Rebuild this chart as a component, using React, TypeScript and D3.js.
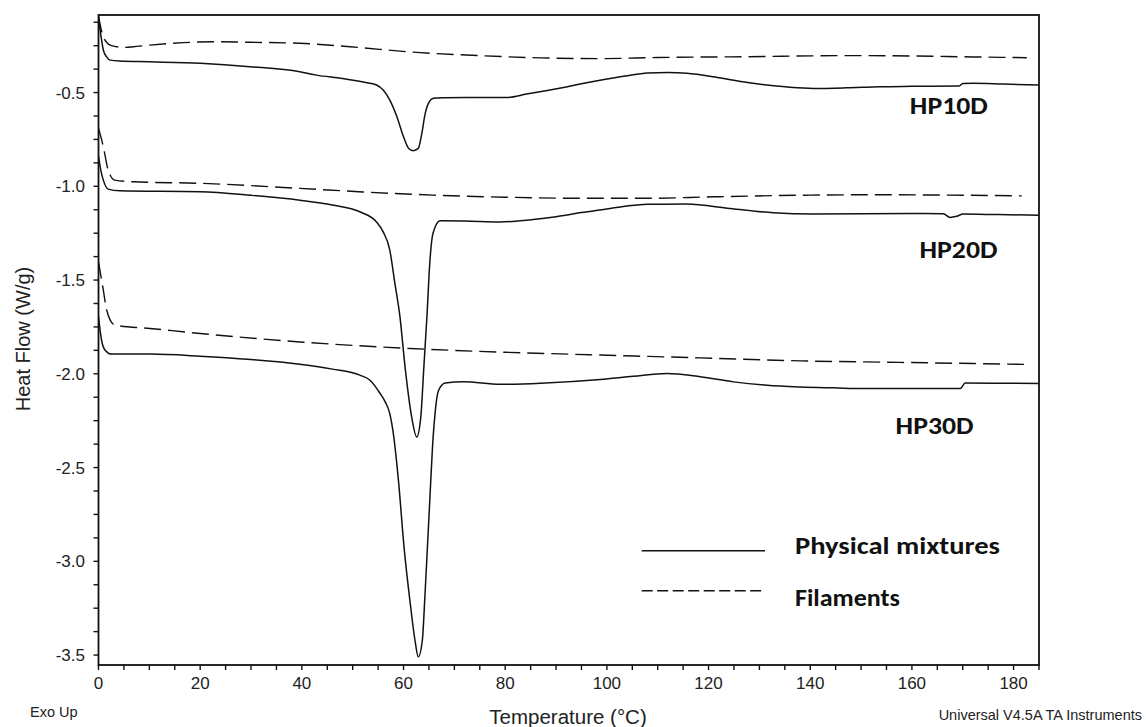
import React from "react";
import * as d3 from "d3";

// DSC thermograms, [temperature °C, heat flow W/g]
const hp10Mixture = [
  [0, -0.1], [0.5, -0.2], [0.95, -0.273], [1.6, -0.31], [2.3, -0.327], [4.2, -0.332],
  [10, -0.336], [20, -0.344], [29.8, -0.362], [39.6, -0.389], [42.9, -0.407],
  [48, -0.425], [52.8, -0.448], [54.7, -0.46], [56, -0.487], [57.3, -0.54],
  [58.7, -0.629], [60, -0.736], [61, -0.798], [61.9, -0.81], [62.9, -0.798],
  [63.6, -0.718], [64.2, -0.62], [64.9, -0.558], [65.9, -0.531], [68, -0.528],
  [72.4, -0.526], [80.3, -0.526], [84.2, -0.508], [88, -0.49], [92, -0.47],
  [96, -0.448], [100, -0.428], [104, -0.41], [108, -0.396], [112, -0.393],
  [115.7, -0.397], [121, -0.416], [126, -0.44], [131.5, -0.46], [136, -0.472],
  [140.6, -0.478], [147, -0.475], [153.7, -0.469], [160, -0.467], [169.3, -0.465],
  [170, -0.452], [172, -0.451], [178, -0.455], [185, -0.46],
];

const hp10Filament = [
  [0, -0.09], [0.5, -0.16], [0.95, -0.202], [1.6, -0.232], [2.3, -0.247],
  [4.9, -0.259], [7.5, -0.254], [10.1, -0.247], [16.7, -0.234], [22.6, -0.229],
  [29.8, -0.232], [39.6, -0.237], [49.5, -0.256], [62.6, -0.286], [75.7, -0.304],
  [87, -0.315], [98.7, -0.319], [110, -0.313], [127.5, -0.309], [147.2, -0.303],
  [160.2, -0.305], [172, -0.31], [182.6, -0.314],
];

const hp20Mixture = [
  [0, -0.84], [0.5, -0.92], [0.95, -0.967], [1.9, -1.015], [4.2, -1.024],
  [20, -1.029], [30, -1.048], [39.6, -1.074], [46, -1.1], [51.4, -1.136],
  [54.7, -1.19], [56, -1.243], [57.3, -1.34], [58.3, -1.518], [59.3, -1.696],
  [60.3, -1.963], [61.6, -2.23], [62.6, -2.337], [63.4, -2.23], [64.0, -1.963],
  [64.6, -1.696], [65.2, -1.394], [65.8, -1.25], [67.2, -1.184], [72, -1.185],
  [79, -1.19], [85.5, -1.177], [90, -1.162], [95, -1.14], [100, -1.121],
  [104, -1.105], [108, -1.096], [115.7, -1.095], [124.2, -1.118], [132.7, -1.141],
  [140.6, -1.148], [160, -1.145], [166.2, -1.146], [167.5, -1.166],
  [168.8, -1.16], [170.1, -1.148], [177, -1.151], [185, -1.154],
];

const hp20Filament = [
  [0, -0.69], [0.95, -0.789], [1.9, -0.914], [3.2, -0.967], [6.8, -0.976],
  [20, -0.984], [39.6, -1.011], [52, -1.03], [65.8, -1.047], [80, -1.058],
  [94.7, -1.064], [107.9, -1.064], [121, -1.056], [137.4, -1.048],
  [153.7, -1.045], [166.9, -1.047], [181.6, -1.051],
];

const hp30Mixture = [
  [0, -1.696], [0.6, -1.821], [1.3, -1.874], [2.6, -1.895], [10.1, -1.895],
  [20, -1.906], [30, -1.924], [39.6, -1.949], [46, -1.975], [51.4, -2.007],
  [53.4, -2.034], [55.4, -2.105], [56.4, -2.15], [57.3, -2.212], [57.9, -2.3],
  [59.0, -2.568], [60.1, -2.924], [61.3, -3.22], [62.3, -3.43], [62.9, -3.51],
  [63.7, -3.421], [64.2, -3.19], [64.7, -2.924], [65.2, -2.657], [65.7, -2.39],
  [66.2, -2.212], [66.9, -2.088], [68.2, -2.049], [71.8, -2.043], [79, -2.056],
  [87, -2.05], [98.7, -2.03], [105.2, -2.013], [111.8, -1.998], [118.4, -2.016],
  [124.9, -2.043], [131.5, -2.061], [138, -2.07], [144.6, -2.075], [151, -2.079],
  [169.5, -2.079], [170.5, -2.049], [177, -2.05], [185, -2.052],
];

const hp30Filament = [
  [0, -1.403], [0.95, -1.554], [1.6, -1.66], [3.2, -1.74], [10.1, -1.758],
  [20, -1.785], [39.6, -1.83], [61.3, -1.865], [80, -1.885], [98.7, -1.9],
  [118.4, -1.915], [138, -1.931], [157.7, -1.939], [182.3, -1.95],
];

const mixtureSeries = [hp10Mixture, hp20Mixture, hp30Mixture];
const filamentSeries = [hp10Filament, hp20Filament, hp30Filament];

const sampleNames = ["HP10D", "HP20D", "HP30D"];
const sampleLabelAt = [
  [159.6, -0.615],
  [161.5, -1.385],
  [156.8, -2.32],
];

const legendNames = ["Physical mixtures", "Filaments"];

const xMajorTicks = [0, 20, 40, 60, 80, 100, 120, 140, 160, 180];
const yMajorTicks = [-0.5, -1.0, -1.5, -2.0, -2.5, -3.0, -3.5];

const W = 1146;
const H = 727;
const plot = { left: 98.5, right: 1039, top: 15, bottom: 665 };

export default function App() {
  const x = d3.scaleLinear().domain([0, 185]).range([plot.left, plot.right]);
  const y = d3.scaleLinear().domain([-0.0864, -3.553]).range([plot.top, plot.bottom]);

  const line = d3
    .line<number[]>()
    .x((d) => x(d[0]))
    .y((d) => y(d[1]))
    .curve(d3.curveMonotoneX);

  const xMinor = d3.range(0, 185.01, 5);
  const yMinor = d3.range(-3.5, -0.08, 0.125);

  const tickFont = "'Liberation Sans', Arial, sans-serif";
  const labelFont = "Carlito, Lato, 'Open Sans', sans-serif";

  return (
    <svg
      width={W}
      height={H}
      style={{ position: "absolute", left: 0, top: 0, background: "#fff" }}
    >
      <defs>
        <clipPath id="plotArea">
          <rect
            x={plot.left}
            y={plot.top}
            width={plot.right - plot.left}
            height={plot.bottom - plot.top}
          />
        </clipPath>
      </defs>

      {/* curves */}
      <g clipPath="url(#plotArea)" fill="none" stroke="#111">
        {mixtureSeries.map((s, i) => (
          <path key={"m" + i} d={line(s) || ""} strokeWidth={1.5} />
        ))}
        {filamentSeries.map((s, i) => (
          <path
            key={"f" + i}
            d={line(s) || ""}
            strokeWidth={1.4}
            strokeDasharray="17,7"
          />
        ))}
      </g>

      {/* frame */}
      <rect
        x={plot.left}
        y={plot.top}
        width={plot.right - plot.left}
        height={plot.bottom - plot.top}
        fill="none"
        stroke="#111"
        strokeWidth={1.8}
      />

      {/* ticks */}
      <g stroke="#111" strokeWidth={1.4}>
        {xMinor.map((t) => (
          <line key={t} x1={x(t)} x2={x(t)} y1={plot.bottom} y2={plot.bottom + 5} />
        ))}
        {yMinor.map((t) => (
          <line key={t} x1={plot.left - 5} x2={plot.left} y1={y(t)} y2={y(t)} />
        ))}
      </g>
      <g fontFamily={tickFont} fontSize={17} fill="#222">
        {xMajorTicks.map((t) => (
          <text key={t} x={x(t)} y={689} textAnchor="middle">
            {t}
          </text>
        ))}
        {yMajorTicks.map((t) => (
          <text key={t} x={85} y={y(t)} dy="0.35em" textAnchor="end">
            {t.toFixed(1)}
          </text>
        ))}
      </g>

      {/* axis titles */}
      <text
        x={568}
        y={724}
        textAnchor="middle"
        fontFamily={tickFont}
        fontSize={20.5}
        fill="#222"
      >
        Temperature (°C)
      </text>
      <text
        transform="translate(30,339) rotate(-90)"
        textAnchor="middle"
        fontFamily={tickFont}
        fontSize={20}
        fill="#222"
      >
        Heat Flow (W/g)
      </text>
      <text x={30} y={717} fontFamily={tickFont} fontSize={14.5} fill="#222">
        Exo Up
      </text>
      <text
        x={1142}
        y={720}
        textAnchor="end"
        fontFamily={tickFont}
        fontSize={14.5}
        fill="#222"
      >
        Universal V4.5A TA Instruments
      </text>

      {/* sample labels */}
      <g fontFamily={labelFont} fontWeight={700} fontSize={24} fill="#111">
        {sampleNames.map((n, i) => (
          <text
            key={n}
            x={x(sampleLabelAt[i][0])}
            y={y(sampleLabelAt[i][1])}
            textLength={78}
            lengthAdjust="spacingAndGlyphs"
          >
            {n}
          </text>
        ))}
      </g>

      {/* legend */}
      <g>
        <line x1={641.7} x2={765} y1={550.7} y2={550.7} stroke="#111" strokeWidth={1.5} />
        <line
          x1={641.7}
          x2={765}
          y1={590.7}
          y2={590.7}
          stroke="#111"
          strokeWidth={1.4}
          strokeDasharray="11,4.5"
        />
        <g fontFamily={labelFont} fontWeight={700} fontSize={24} fill="#111">
          <text x={795} y={554} textLength={205} lengthAdjust="spacingAndGlyphs">
            {legendNames[0]}
          </text>
          <text x={795} y={606} textLength={105} lengthAdjust="spacingAndGlyphs">
            {legendNames[1]}
          </text>
        </g>
      </g>
    </svg>
  );
}
